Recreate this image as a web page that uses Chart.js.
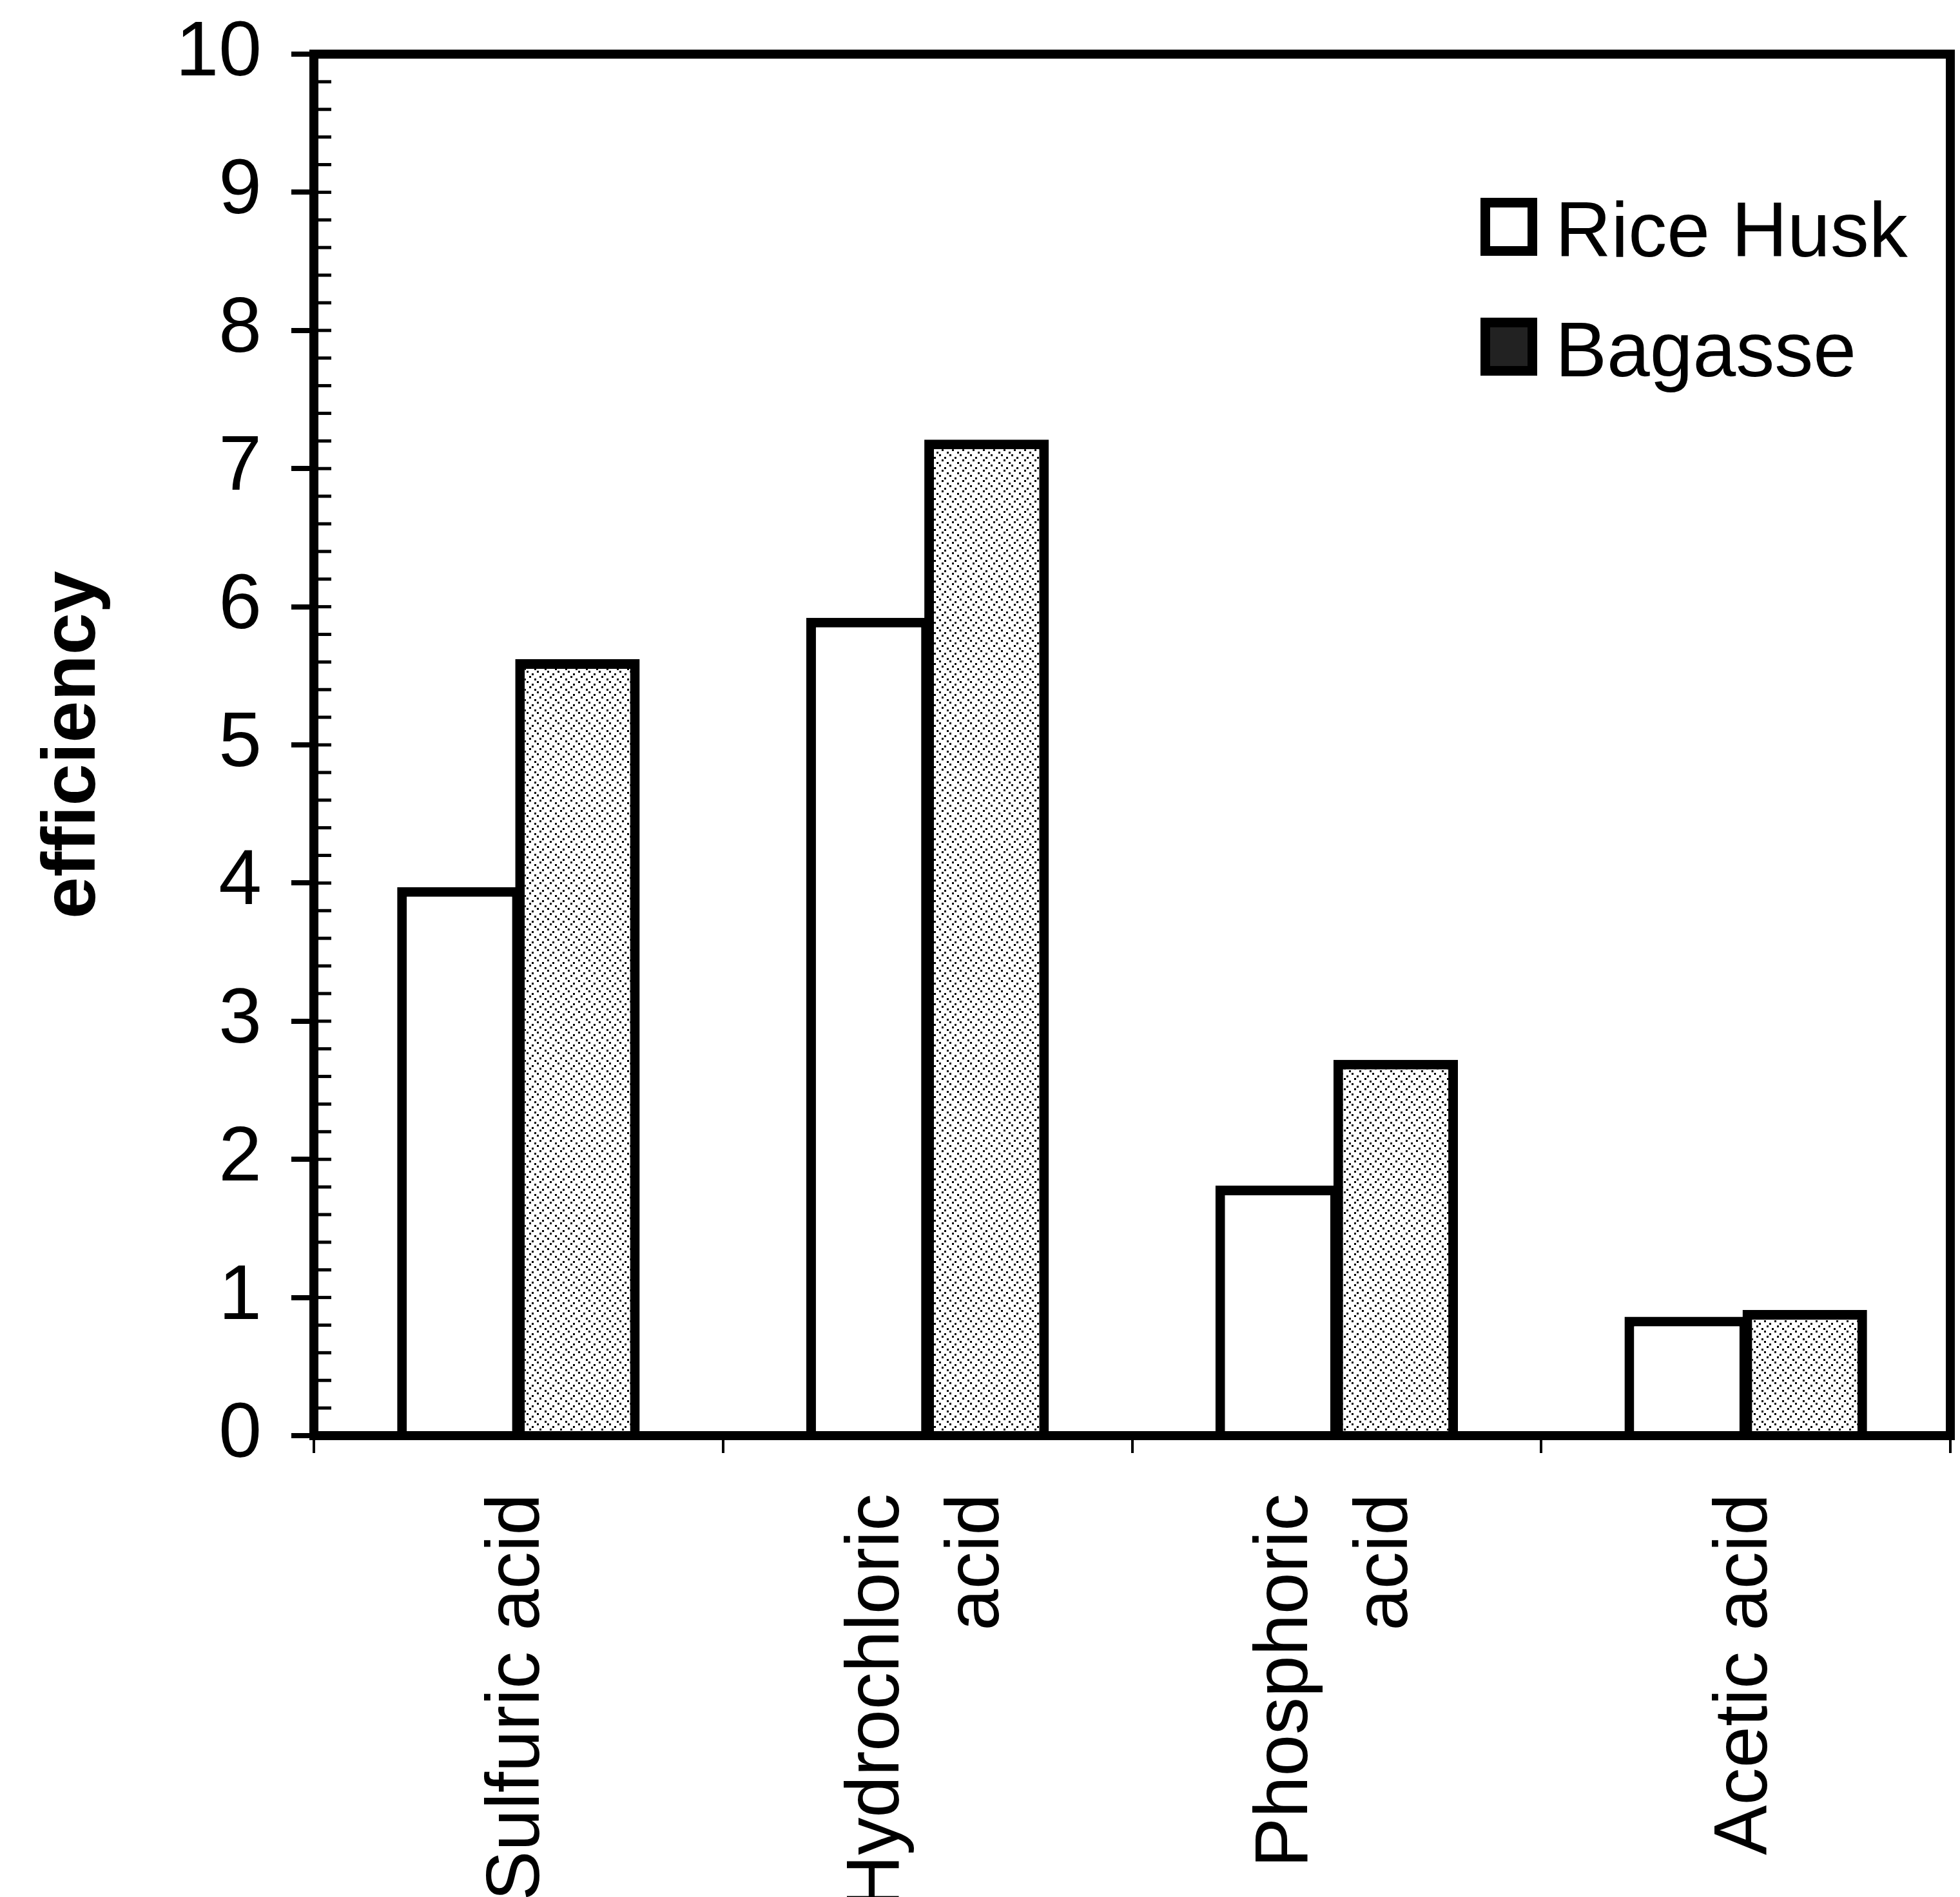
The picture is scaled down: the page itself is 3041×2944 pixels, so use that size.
<!DOCTYPE html>
<html>
<head>
<meta charset="utf-8">
<title>efficiency</title>
<script src="https://cdn.jsdelivr.net/npm/chart.js@4.4.1/dist/chart.umd.min.js"></script>
<style>
  html, body { margin: 0; padding: 0; background: #fff; }
  #wrap { width: 3041px; height: 2944px; position: relative; }
</style>
</head>
<body>
<div id="wrap"><canvas id="chart"></canvas></div>
<script>
// categories (one entry per line of the rotated label)
const categories = [["Sulfuric acid"], ["Hydrochloric", "acid"], ["Phosphoric", "acid"], ["Acetic acid"]];
const seriesNames = ["Rice Husk", "Bagasse"];
const riceHusk = [3.97, 5.92, 1.81, 0.86];
const bagasse = [5.62, 7.21, 2.72, 0.91];
const yMin = 0;
const yMax = 10;
const yStep = 1;
const yMinorStep = 0.2;
const yTitle = "efficiency";

const FONT = '"Liberation Sans", Arial, sans-serif';

// light stipple used for the Bagasse bars
function stipple() {
  const c = document.createElement("canvas");
  c.width = 16;
  c.height = 16;
  const g = c.getContext("2d");
  g.fillStyle = "#fff";
  g.fillRect(0, 0, 16, 16);
  g.fillStyle = "#000";
  [[1, 1], [9, 5], [5, 9], [13, 13]].forEach(([x, y]) => g.fillRect(x, y, 3, 3));
  return g.createPattern(c, "repeat");
}

const frame = {
  id: "frame",
  afterDatasetsDraw(chart) {
    const { ctx, chartArea: a, scales: { y } } = chart;
    ctx.save();
    ctx.strokeStyle = "#000";
    // small inward ticks on the value axis
    ctx.lineWidth = 5;
    const n = Math.round((yMax - yMin) / yMinorStep);
    for (let i = 0; i <= n; i++) {
      const py = y.getPixelForValue(yMin + i * yMinorStep);
      ctx.beginPath();
      ctx.moveTo(a.left, py);
      ctx.lineTo(a.left + 27, py);
      ctx.stroke();
    }
    ctx.lineWidth = 14;
    ctx.strokeRect(a.left, a.top, a.right - a.left, a.bottom - a.top);
    ctx.restore();
  },
  afterDraw(chart) {
    const { ctx, chartArea: a, scales: { x } } = chart;
    ctx.save();
    ctx.fillStyle = "#000";

    // rotated category labels, lines centred on the category
    ctx.font = `116px ${FONT}`;
    ctx.textAlign = "right";
    ctx.textBaseline = "middle";
    categories.forEach((lines, i) => {
      const cx = x.getPixelForValue(i);
      lines.forEach((line, k) => {
        ctx.save();
        ctx.translate(cx + (k - (lines.length - 1) / 2) * 155, a.bottom + 90);
        ctx.rotate(-Math.PI / 2);
        ctx.fillText(line, 0, 0);
        ctx.restore();
      });
    });

    // legend inside the plot, top right
    const fills = ["#fff", "#222"];
    ctx.font = `120px ${FONT}`;
    ctx.textAlign = "left";
    ctx.textBaseline = "alphabetic";
    seriesNames.forEach((name, i) => {
      const top = 307 + i * 186;
      ctx.fillStyle = "#000";
      ctx.fillRect(2297, top, 88, 90);
      ctx.fillStyle = fills[i];
      ctx.fillRect(2312, top + 15, 58, 60);
      ctx.fillStyle = "#000";
      ctx.fillText(name, 2413, top + 91);
    });
    ctx.restore();
  }
};

const barStyle = {
  borderColor: "#000",
  borderWidth: 15,
  barPercentage: 1.055,
  categoryPercentage: 0.577
};

new Chart(document.getElementById("chart"), {
  type: "bar",
  data: {
    labels: categories.map((l) => l.join(" ")),
    datasets: [
      { label: seriesNames[0], data: riceHusk, backgroundColor: "#fff", ...barStyle },
      { label: seriesNames[1], data: bagasse, backgroundColor: stipple(), ...barStyle }
    ]
  },
  options: {
    responsive: true,
    maintainAspectRatio: false,
    animation: false,
    layout: { padding: { left: 0, top: 84, right: 15, bottom: 0 } },
    plugins: {
      legend: { display: false },
      tooltip: { enabled: false }
    },
    scales: {
      x: {
        border: { display: false },
        grid: {
          offset: true,
          drawOnChartArea: false,
          drawTicks: true,
          tickLength: 27,
          lineWidth: 4,
          color: "#000"
        },
        ticks: { display: false },
        afterFit: (s) => { s.height = 716; }
      },
      y: {
        min: yMin,
        max: yMax,
        border: { display: false },
        grid: {
          drawOnChartArea: false,
          drawTicks: true,
          tickLength: 35,
          lineWidth: 8,
          color: "#000"
        },
        ticks: {
          stepSize: yStep,
          padding: 46,
          color: "#000",
          font: { family: FONT, size: 120 }
        },
        title: {
          display: true,
          text: yTitle,
          color: "#000",
          padding: { top: 45, bottom: 0 },
          font: { family: FONT, size: 117, weight: "bold" }
        },
        afterFit: (s) => {
          s.width = 487;
          s.paddingTop = 0;
          s.paddingBottom = 0;
        }
      }
    }
  },
  plugins: [frame]
});
</script>
</body>
</html>
